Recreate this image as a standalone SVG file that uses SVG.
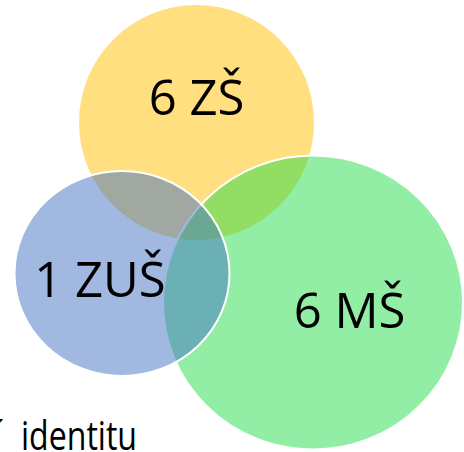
<svg xmlns="http://www.w3.org/2000/svg" width="464" height="452" viewBox="0 0 464 452">
  <style>
    .set { stroke: #ffffff; stroke-width: 2; }
    .lbl { font-family: "Open Sans", "Noto Sans", "DejaVu Sans", sans-serif; font-size: 49px; fill: #000000; text-anchor: middle; }
    .body { font-family: "Open Sans", "Noto Sans", "DejaVu Sans", sans-serif; font-size: 40px; fill: #000000; }
  </style>
  <rect x="0" y="0" width="464" height="452" fill="#ffffff"/>
  <g id="node-zs">
    <circle cx="196.5" cy="122.5" r="117.5" fill="#FFC000" fill-opacity="0.5"/>
    <text class="lbl" x="196.5" y="115">6 ZŠ</text>
  </g>
  <g id="node-ms">
    <ellipse class="set" cx="313" cy="302.5" rx="150" ry="147" fill="#25DD49" fill-opacity="0.5"/>
    <text class="lbl" x="349.5" y="328">6 MŠ</text>
  </g>
  <g id="node-zus">
    <ellipse class="set" cx="122" cy="273.5" rx="107.5" ry="102.5" fill="#4472C4" fill-opacity="0.5"/>
    <text class="lbl" x="100" y="297">1 ZUŠ</text>
  </g>
  <g id="connectors"></g>
  <text class="body" y="450"><tspan x="-8">í</tspan><tspan x="21" textLength="116" lengthAdjust="spacingAndGlyphs">identitu</tspan></text>
</svg>
